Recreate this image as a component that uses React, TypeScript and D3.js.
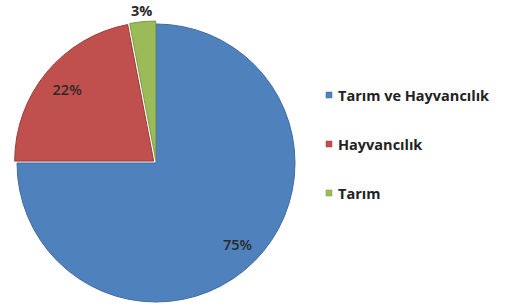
import React from 'react';
import * as d3 from 'd3';

const categories = ['Tarım ve Hayvancılık', 'Hayvancılık', 'Tarım'];
const values = [75, 22, 3];
const colors = ['#4F81BD', '#C0504D', '#9BBB59'];
const strokes = ['#3F6C9F', '#9E3B38', '#7E9B45'];
const explode = [0, 3, 3];

const width = 512;
const height = 307;
const cx = 156;
const cy = 163;
const radius = 139;

const App: React.FC = () => {
  const pie = d3
    .pie<number>()
    .sort(null)
    .value((d) => d);
  const arcs = pie(values);
  const arcGen = d3.arc<d3.PieArcDatum<number>>().innerRadius(0).outerRadius(radius);
  const inLabel = d3.arc<d3.PieArcDatum<number>>().innerRadius(radius * 0.83).outerRadius(radius * 0.83);
  const outLabel = d3.arc<d3.PieArcDatum<number>>().innerRadius(radius * 1.1).outerRadius(radius * 1.1);

  const legendY = d3.scalePoint<string>().domain(categories).range([95, 193]);

  return (
    <svg
      width={width}
      height={height}
      style={{ position: 'absolute', left: 0, top: 0, background: '#fff' }}
      fontFamily="'Open Sans', Lato, sans-serif"
    >
      <g transform={`translate(${cx},${cy})`}>
        {arcs.map((a, i) => {
          const mid = (a.startAngle + a.endAngle) / 2;
          const dx = Math.sin(mid) * explode[i];
          const dy = -Math.cos(mid) * explode[i];
          return (
            <path
              key={i}
              d={arcGen(a) || ''}
              transform={`translate(${dx},${dy})`}
              fill={colors[i]}
              stroke={strokes[i]}
              strokeWidth={1}
            />
          );
        })}
        {arcs.map((a, i) => {
          const small = values[i] < 5;
          const [x, y] = small ? outLabel.centroid(a) : inLabel.centroid(a);
          return (
            <text
              key={i}
              x={x}
              y={y}
              textAnchor="middle"
              dominantBaseline="central"
              fontSize={14.5}
              fill="#2a2a2a"
              fontWeight={small ? 700 : 600}
            >
              {values[i]}%
            </text>
          );
        })}
      </g>
      {categories.map((c, i) => (
        <g key={c} transform={`translate(326,${legendY(c)})`}>
          <rect x={0} y={-3} width={6} height={6} fill={colors[i]} stroke={strokes[i]} strokeWidth={0.5} />
          <text x={12} y={0} dominantBaseline="central" fontSize={14.5} fontWeight={700} fill="#222">
            {c}
          </text>
        </g>
      ))}
    </svg>
  );
};

export default App;
